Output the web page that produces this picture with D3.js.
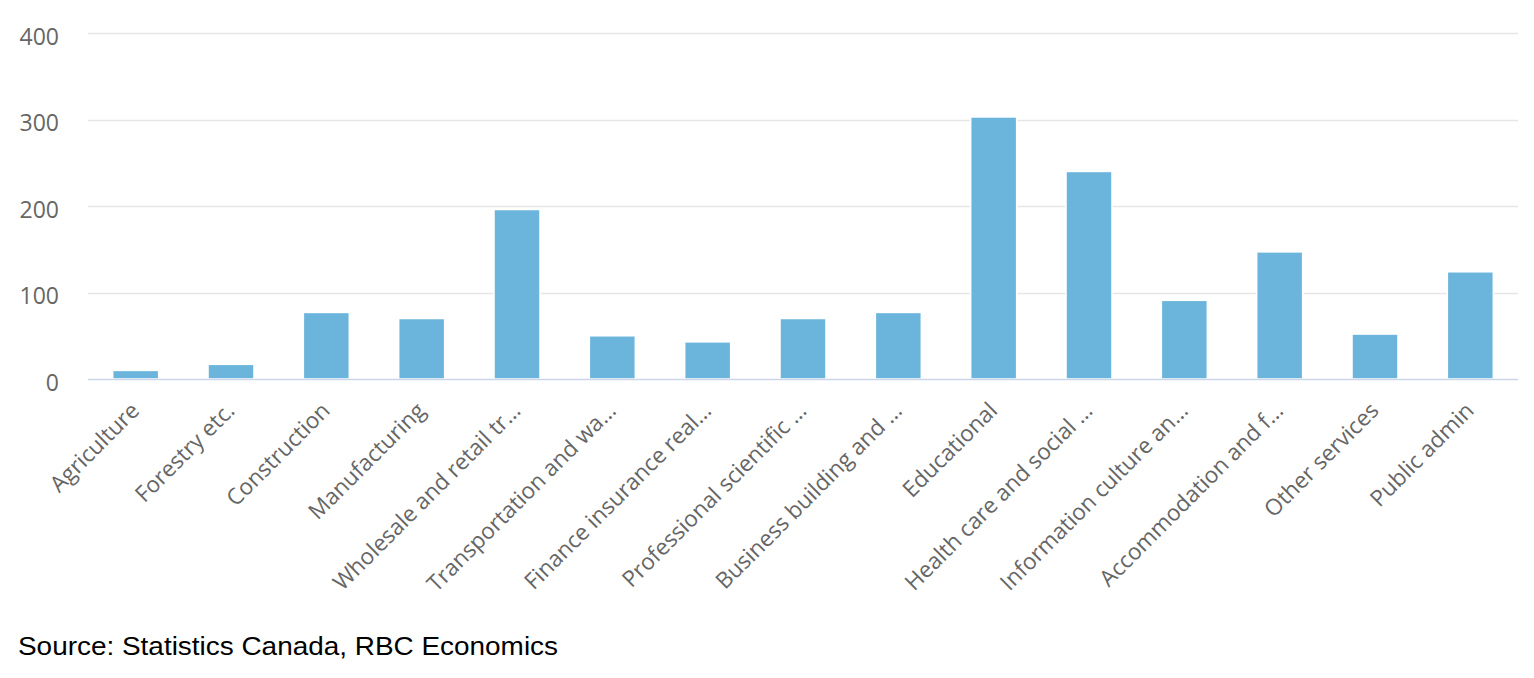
<!DOCTYPE html>
<html>
<head>
<meta charset="utf-8">
<script src="https://cdn.jsdelivr.net/npm/d3@7"></script>
<style>
  body { margin: 0; background: #fff; }
  svg { display: block; }
</style>
</head>
<body>
<div id="chart"></div>
<script>
// categories as shown on the axis (already truncated in the source chart)
const categories = [
  "Agriculture", "Forestry etc.", "Construction", "Manufacturing",
  "Wholesale and retail tr\u2026", "Transportation and wa\u2026",
  "Finance insurance real\u2026", "Professional scientific  \u2026",
  "Business building and  \u2026", "Educational", "Health care and social  \u2026",
  "Information culture an\u2026", "Accommodation and f\u2026",
  "Other services", "Public admin"
];
const values = [10, 17, 77, 70, 196, 50, 43, 70, 77, 303, 240, 91, 147, 52, 124];
const yTicks = [0, 100, 200, 300, 400];
const sourceText = "Source: Statistics Canada, RBC Economics";

const width = 1534, height = 678;
const margin = {top: 33, right: 16, bottom: 299, left: 88};
const labelFont = "'Open Sans', 'DejaVu Sans', sans-serif";

const svg = d3.select("#chart").append("svg")
    .attr("width", width)
    .attr("height", height);

const x = d3.scaleBand()
    .domain(categories)
    .range([margin.left, width - margin.right])
    .paddingInner(0.517)
    .paddingOuter(0.2585);

const y = d3.scaleLinear()
    .domain([0, 400])
    .range([height - margin.bottom, margin.top]);

// gridlines
svg.append("g")
    .selectAll("line")
    .data(yTicks.filter(d => d > 0))
    .join("line")
    .attr("x1", margin.left)
    .attr("x2", width - margin.right)
    .attr("y1", d => Math.round(y(d)) + 0.5)
    .attr("y2", d => Math.round(y(d)) + 0.5)
    .attr("stroke", "#e6e6e6")
    .attr("stroke-width", 1.3);

// y axis labels
const yAxis = d3.axisLeft(y).tickValues(yTicks).tickSize(0).tickPadding(0);
svg.append("g")
    .attr("transform", `translate(59,0)`)
    .call(yAxis)
    .call(g => g.select(".domain").remove())
    .call(g => g.selectAll("text")
        .attr("fill", "#666666")
        .attr("font-family", labelFont)
        .attr("font-size", 23)
        .attr("dy", "0.48em"));

// bars
svg.append("g")
    .selectAll("rect")
    .data(values)
    .join("rect")
    .attr("x", (d, i) => x(categories[i]))
    .attr("width", x.bandwidth())
    .attr("y", d => y(d))
    .attr("height", d => y(0) - y(d))
    .attr("fill", "#6bb4dc")
    .attr("stroke", "#ffffff")
    .attr("stroke-width", 1.6);

// baseline
svg.append("line")
    .attr("x1", margin.left)
    .attr("x2", width - margin.right)
    .attr("y1", Math.round(y(0)) + 0.5)
    .attr("y2", Math.round(y(0)) + 0.5)
    .attr("stroke", "#ccd6eb")
    .attr("stroke-width", 1.5);

// x axis labels, rotated
const xAxis = d3.axisBottom(x).tickSize(0).tickPadding(0);
svg.append("g")
    .attr("transform", `translate(0,${y(0)})`)
    .call(xAxis)
    .call(g => g.select(".domain").remove())
    .call(g => g.selectAll("text")
        .attr("fill", "#666666")
        .attr("font-family", labelFont)
        .attr("font-size", 22.5)
        .attr("text-anchor", "end")
        .attr("dy", null)
        .attr("y", 0)
        .attr("transform", "translate(5,33) rotate(-45)"));

// source note
svg.append("text")
    .attr("x", 18)
    .attr("y", 655)
    .attr("font-family", "'Liberation Sans', Arial, sans-serif")
    .attr("font-size", 26)
    .attr("textLength", 540)
    .attr("lengthAdjust", "spacingAndGlyphs")
    .attr("fill", "#000")
    .text(sourceText);
</script>
</body>
</html>
